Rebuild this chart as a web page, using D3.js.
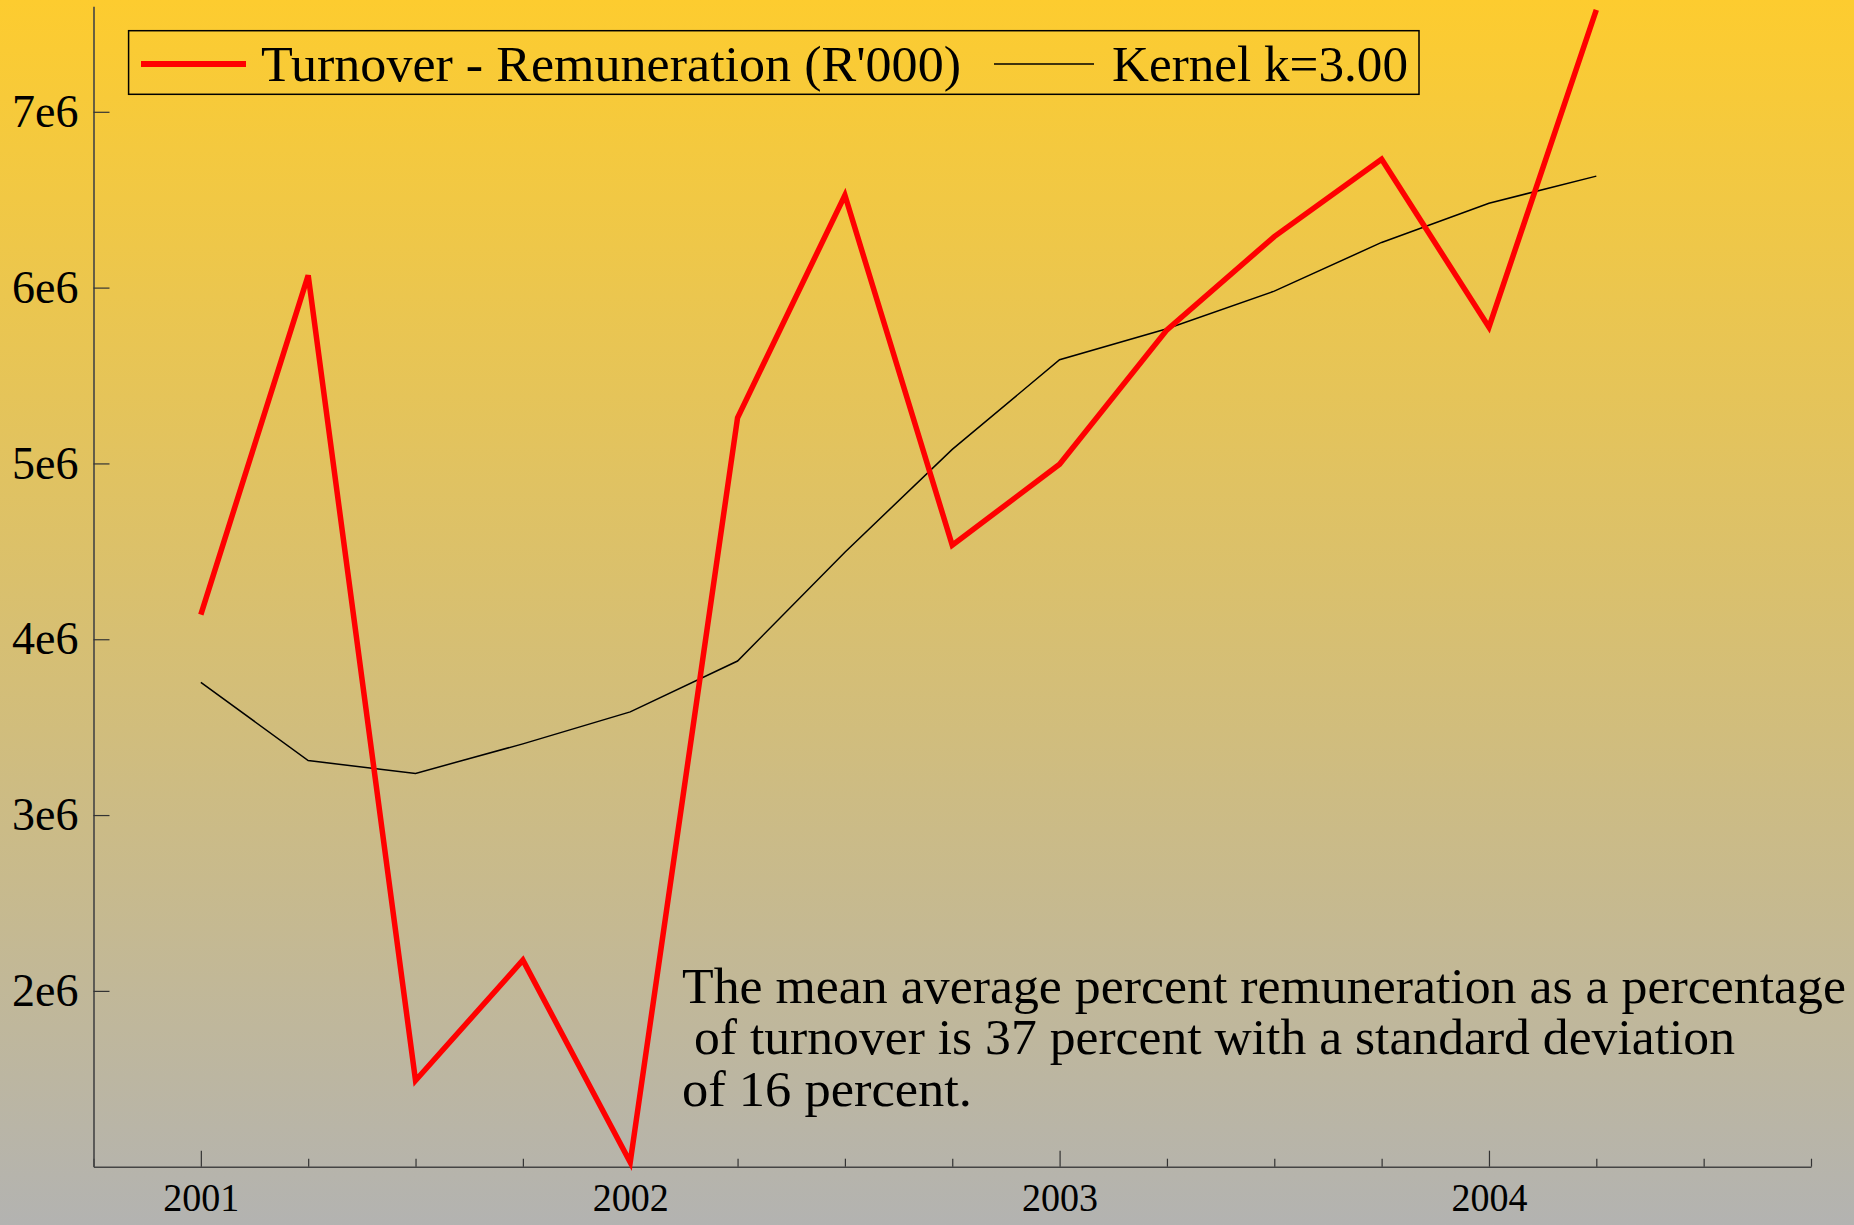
<!DOCTYPE html>
<html><head><meta charset="utf-8">
<script src="https://cdn.jsdelivr.net/npm/d3@7"></script>
<style>html,body{margin:0;padding:0;overflow:hidden;background:#b4b4b2}</style>
</head><body>
<script>
// ---- data ----
const quarters = [2001.00,2001.25,2001.50,2001.75,2002.00,2002.25,2002.50,2002.75,2003.00,2003.25,2003.50,2003.75,2004.00,2004.25];
const turnoverMinusRemuneration = [4.14e6,6.07e6,1.49e6,2.175e6,1.025e6,5.26e6,6.525e6,4.535e6,4.995e6,5.76e6,6.29e6,6.73e6,5.775e6,7.58e6];
const kernelSmooth = [3.755e6,3.31e6,3.237e6,3.405e6,3.587e6,3.876e6,4.495e6,5.08e6,5.59e6,5.766e6,5.98e6,6.257e6,6.48e6,6.634e6];
const yTickValues = [2e6,3e6,4e6,5e6,6e6,7e6];
const yTickLabels = ["2e6","3e6","4e6","5e6","6e6","7e6"];
const xTickValues = [2000.75,2001,2001.25,2001.5,2001.75,2002,2002.25,2002.5,2002.75,2003,2003.25,2003.5,2003.75,2004,2004.25,2004.5,2004.75];
const xYearLabels = ["2001","2002","2003","2004"];
const legendLabels = ["Turnover - Remuneration (R'000)","Kernel k=3.00"];
const noteLines = ["The mean average percent remuneration as a percentage","of turnover is 37 percent with a standard deviation","of 16 percent."];

const W = 1854, H = 1225;
const FONT = "'Liberation Serif','Times New Roman',serif";
const svg = d3.select("body").append("svg").attr("width",W).attr("height",H);

const defs = svg.append("defs");
const grad = defs.append("linearGradient").attr("id","bg").attr("x1",0).attr("y1",0).attr("x2",0).attr("y2",1);
grad.append("stop").attr("offset","0%").attr("stop-color","#fdcc2f");
grad.append("stop").attr("offset","100%").attr("stop-color","#b3b3b1");
svg.append("rect").attr("width",W).attr("height",H).attr("fill","url(#bg)");

const x = d3.scaleLinear().domain([2000.75,2004.75]).range([93.5,1811]);
const y = d3.scaleLinear().domain([1e6,7.6e6]).range([1166.7,6.3]);

// axes
const xAxis = d3.axisBottom(x).tickValues(xTickValues).tickSizeInner(-8).tickSizeOuter(0).tickPadding(16)
  .tickFormat(d => Number.isInteger(d) ? xYearLabels[xYearLabels.indexOf(String(d))] : "");
const gx = svg.append("g").attr("transform",`translate(0,${y.range()[0]})`).call(xAxis);
gx.select(".domain").attr("stroke","#444").attr("stroke-width",1.6);
gx.selectAll(".tick line").attr("stroke","#333").attr("stroke-width",1.2)
  .attr("y2", d => Number.isInteger(d) ? -16 : -8);
gx.selectAll(".tick text").attr("font-family",FONT).attr("font-size",40).attr("fill","#000")
  .each(function(d){ if (Number.isInteger(d)) d3.select(this).attr("textLength",76).attr("lengthAdjust","spacingAndGlyphs"); });

const yAxis = d3.axisLeft(y).tickValues(yTickValues).tickSizeInner(-16).tickSizeOuter(0).tickPadding(15)
  .tickFormat((d,i) => yTickLabels[i]);
const gy = svg.append("g").attr("transform",`translate(${x.range()[0]},0)`).call(yAxis);
gy.select(".domain").attr("stroke","#444").attr("stroke-width",1.6);
gy.selectAll(".tick line").attr("stroke","#333").attr("stroke-width",1.2);
gy.selectAll(".tick text").attr("font-family",FONT).attr("font-size",46).attr("fill","#000");

// lines
const line = d3.line().x((d,i)=>x(quarters[i])).y(d=>y(d));
svg.append("path").datum(kernelSmooth).attr("d",line).attr("fill","none").attr("stroke","#000").attr("stroke-width",1.5);
svg.append("path").datum(turnoverMinusRemuneration).attr("d",line).attr("fill","none").attr("stroke","#ff0000").attr("stroke-width",5.5).attr("stroke-linejoin","miter");

// legend
const lg = svg.append("g");
lg.append("rect").attr("x",128.6).attr("y",30.7).attr("width",1290.4).attr("height",63.6).attr("fill","none").attr("stroke","#000").attr("stroke-width",1.5);
lg.append("line").attr("x1",141).attr("x2",246).attr("y1",64).attr("y2",64).attr("stroke","#ff0000").attr("stroke-width",6);
lg.append("text").attr("x",261).attr("y",81).attr("font-family",FONT).attr("font-size",51)
  .attr("textLength",700).attr("lengthAdjust","spacingAndGlyphs").text(legendLabels[0]);
lg.append("line").attr("x1",994).attr("x2",1094).attr("y1",64).attr("y2",64).attr("stroke","#000").attr("stroke-width",1.5);
lg.append("text").attr("x",1112).attr("y",81).attr("font-family",FONT).attr("font-size",51)
  .attr("textLength",296).attr("lengthAdjust","spacingAndGlyphs").text(legendLabels[1]);

// annotation
const notePos = [[682,1003,1164],[694,1054,1041],[682,1106,290]];
noteLines.forEach((t,i)=>{
  svg.append("text").attr("x",notePos[i][0]).attr("y",notePos[i][1]).attr("font-family",FONT).attr("font-size",50)
    .attr("textLength",notePos[i][2]).attr("lengthAdjust","spacingAndGlyphs").text(t);
});
</script>
</body></html>
